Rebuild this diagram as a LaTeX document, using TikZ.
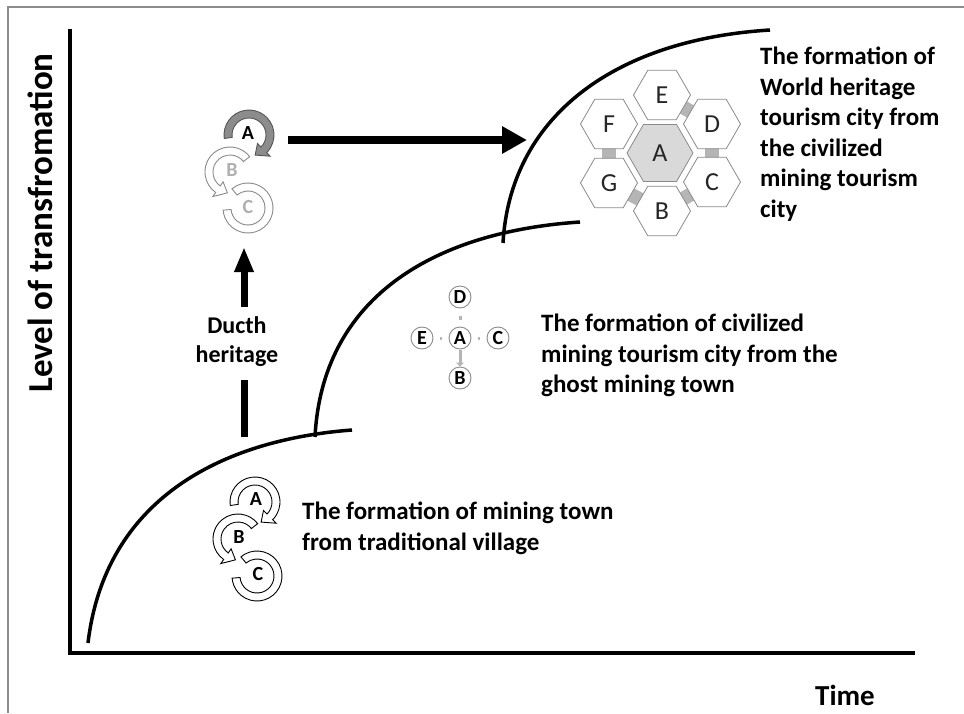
\documentclass[tikz,border=0pt]{standalone}
\usepackage{fontspec}
\setmainfont{Carlito}
\usetikzlibrary{calc,arrows.meta,shapes.geometric}
\definecolor{bandgray}{HTML}{B5B5B5}
\definecolor{hexline}{HTML}{8A8A8A}
\definecolor{hexA}{HTML}{D9D9D9}
\definecolor{ringdark}{HTML}{8C8C8C}
\definecolor{ringline}{HTML}{555555}
\definecolor{paleletter}{HTML}{B0B0B0}
\definecolor{frame}{HTML}{8C8C8C}
\newcommand{\ringhead}[6]{%
  \filldraw[shift={(#1)},fill=#5,draw=#6,line width=0.9pt,line join=miter]
    (#2:25) arc[start angle=#2,end angle=#3,radius=25] -- (#3:30) -- (#4:21)
    -- (#3:12) -- (#3:17) arc[start angle=#3,end angle=#2,radius=17] -- cycle;}
\newcommand{\ringopen}[5]{%
  \filldraw[shift={(#1)},fill=#4,draw=#5,line width=0.9pt]
    (#2:25) arc[start angle=#2,end angle=#3,radius=25] -- (#3:17)
    arc[start angle=#3,end angle=#2,radius=17] -- cycle;}
\begin{document}
\begin{tikzpicture}[x=1pt,y=-1pt,
  bigtxt/.style={font=\bfseries\fontsize{25}{30.5}\selectfont,align=left,inner sep=0pt},
  axis/.style={line width=4.5pt},
  curve/.style={line width=3.5pt},
  hexouter/.style={regular polygon,regular polygon sides=6,minimum size=57pt,inner sep=0pt,draw=hexline,line width=0.8pt,fill=white,font=\fontsize{26}{28}\selectfont,text=black!85},
  hexinner/.style={hexouter,minimum size=66pt,fill=hexA},
  band/.style={line width=14pt,draw=bandgray},
  smallc/.style={circle,draw=hexline,line width=0.9pt,minimum size=22pt,inner sep=0pt,font=\bfseries\fontsize{20}{22}\selectfont},
  dotlink/.style={line width=3pt,draw=bandgray},
  ringlbl/.style={font=\bfseries\fontsize{20}{22}\selectfont,inner sep=0pt},
  fatarrow/.style={line width=8pt,-{Triangle[length=25pt,width=26pt]}},
  vertarrow/.style={line width=7pt}
]
\useasboundingbox (0,0) rectangle (964,713);
% frame
\draw[frame,line width=1.2pt] (964,7) -- (8,7) -- (8,713);
% axes
\coordinate (ytop) at (70,29);
\coordinate (orig) at (70,653);
\coordinate (xend) at (915,653);
\draw[axis] (ytop) -- (orig) -- (xend);
\node[font=\bfseries\fontsize{35}{37}\selectfont,rotate=90] (ylab) at (40,223) {Level of transfromation};
\node[font=\bfseries\fontsize{29}{31}\selectfont] (xlab) at (845,695) {Time};
% curves
\coordinate (c1s) at (88,643); \coordinate (c1e) at (352,430);
\coordinate (c2s) at (315,437); \coordinate (c2e) at (580,222);
\coordinate (c3s) at (503,243); \coordinate (c3e) at (770,30);
\draw[curve] (c1s) .. controls (105,500) and (220,440) .. (c1e);
\draw[curve] (c2s) .. controls (322,300) and (430,232) .. (c2e);
\draw[curve] (c3s) .. controls (510,120) and (610,40) .. (c3e);
% lower ring group
\ringopen{257,576}{230}{535}{white}{black}
\ringhead{238,539}{322}{125}{97}{white}{black}
\ringhead{255,502}{172}{405}{433}{white}{black}
\node[ringlbl] (la) at (256,499) {A};
\node[ringlbl] (lb) at (239,537) {B};
\node[ringlbl] (lc) at (258,574) {C};
% upper ring group
\ringopen{248,208}{230}{535}{white}{hexline}
\ringhead{230,172}{322}{125}{97}{white}{hexline}
\ringhead{249,135}{172}{405}{433}{ringdark}{ringline}
\node[ringlbl] (ua) at (248,133) {A};
\node[ringlbl,text=paleletter] (ub) at (232,170) {B};
\node[ringlbl,text=paleletter] (uc) at (248,207) {C};
% arrows
\coordinate (h1) at (288,140); \coordinate (h2) at (527,140);
\draw[fatarrow] (h1) -- (h2);
\node[font=\bfseries\fontsize{24}{29}\selectfont,align=center,inner sep=0pt,anchor=north] (dutch) at (237,316) {Ducth\\heritage};
\coordinate (v1) at (244,437); \coordinate (v2) at (244,380);
\coordinate (v3) at (244,307); \coordinate (v4) at (244,247);
\draw[vertarrow] (v1) -- (v2);
\draw[vertarrow,-{Triangle[length=25pt,width=18pt]}] (v3) -- (v4);
% cross of circles
\node[smallc] (xa) at (460,338) {A};
\node[smallc] (xd) at (460,297) {D};
\node[smallc] (xb) at (460,378) {B};
\node[smallc] (xe) at (422,338) {E};
\node[smallc] (xc) at (498,338) {C};
\draw[dotlink] (460,316) -- (460,320);
\draw[dotlink,shorten <=1pt,-{Triangle[length=4pt,width=8pt]}] (xa) -- (xb);
\draw[dotlink,shorten <=7pt,shorten >=7pt] (xe) -- (xa);
\draw[dotlink,shorten <=7pt,shorten >=7pt] (xa) -- (xc);
% hexagons
\coordinate (pA) at (660,153);
\coordinate (pE) at (662,95);
\coordinate (pD) at (712,124);
\coordinate (pC) at (712,182);
\coordinate (pB) at (662,211);
\coordinate (pG) at (609,183);
\coordinate (pF) at (609,124);
\draw[band] (pE) -- (pD);
\draw[band] (pD) -- (pC);
\draw[band] (pC) -- (pB);
\draw[band] (pB) -- (pG);
\draw[band] (pG) -- (pF);
\node[hexinner] (hA) at (pA) {A};
\node[hexouter] (hE) at (pE) {E};
\node[hexouter] (hD) at (pD) {D};
\node[hexouter] (hC) at (pC) {C};
\node[hexouter] (hB) at (pB) {B};
\node[hexouter] (hG) at (pG) {G};
\node[hexouter] (hF) at (pF) {F};
% texts
\node[bigtxt,anchor=north west] (t3) at (760,47) {The formation of\\World heritage\\tourism city from\\the civilized\\mining tourism\\city};
\node[bigtxt,anchor=north west] (t2) at (541,314) {The formation of civilized\\mining tourism city from the\\ghost mining town};
\node[bigtxt,anchor=north west] (t1) at (302,502) {The formation of mining town\\from traditional village};
\end{tikzpicture}
\end{document}
